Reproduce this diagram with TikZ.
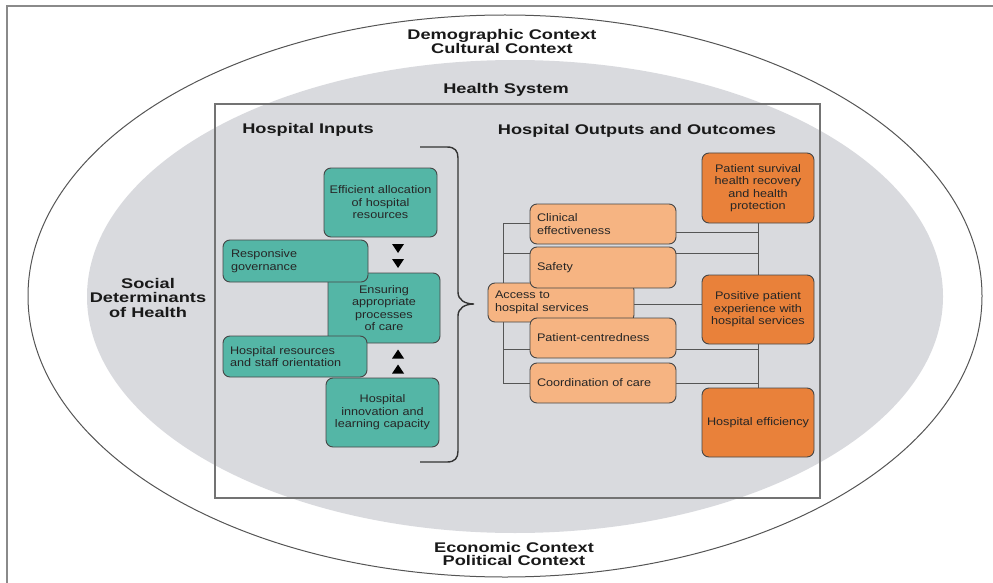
\documentclass[tikz,border=0pt]{standalone}
\usepackage{fontspec}
\setmainfont{Liberation Sans}
\newfontfamily\headfont[FakeStretch=1.3]{Liberation Sans}
\newfontfamily\boxfont[FakeStretch=1.15]{Liberation Sans}
\definecolor{framegrey}{RGB}{138,138,138}
\definecolor{systemgrey}{RGB}{217,218,222}
\definecolor{outline}{RGB}{85,85,85}
\definecolor{boxline}{RGB}{70,70,70}
\definecolor{inputteal}{RGB}{84,182,166}
\definecolor{outputorange}{RGB}{246,180,130}
\definecolor{outcomeorange}{RGB}{233,129,58}
\pgfdeclarelayer{back}
\pgfdeclarelayer{lines}
\pgfsetlayers{back,lines,main}
\begin{document}
\hyphenpenalty=10000\relax
\begin{tikzpicture}[x=1pt,y=-1pt,
  head/.style={font=\headfont\bfseries\fontsize{14}{13.5}\selectfont, align=center, inner sep=0pt, text=black!90},
  box/.style={draw=boxline, line width=0.9pt, rounded corners=7pt, inner xsep=7pt, inner ysep=0pt,
    font=\boxfont\fontsize{11}{12.5}\selectfont, text=black!85},
  cbox/.style={box, inner xsep=3pt, align=center},
  inputbox/.style={fill=inputteal},
  outputbox/.style={fill=outputorange},
  outcomebox/.style={fill=outcomeorange},
  link/.style={draw=outline, line width=0.9pt},
  downtri/.pic={\fill[black] (-6,-4.5) -- (6,-4.5) -- (0,4.5) -- cycle;},
  uptri/.pic={\fill[black] (-6,4.5) -- (6,4.5) -- (0,-4.5) -- cycle;}]
\useasboundingbox (0,0) rectangle (993,583);

\begin{pgfonlayer}{back}
% page frame
\draw[framegrey, line width=1.5pt] (7,583) -- (7,6) -- (993,6);
% context ellipse and health system
\draw[outline, line width=1pt] (505,296) ellipse [x radius=477, y radius=281];
\fill[systemgrey] (515,296.5) ellipse [x radius=428, y radius=236.5];
\end{pgfonlayer}

\node[head] (demo) at (502,41.5) {Demographic Context\\Cultural Context};
\node[head] (econ) at (514,554) {Economic Context\\Political Context};
\node[head] (hsys) at (506,90) {Health System};
\node[head, font=\headfont\bfseries\fontsize{14}{14.5}\selectfont] (sdh) at (148,297.5) {Social\\Determinants\\of Health};

% hospital frame
\node[draw=black!55, line width=1.2pt, minimum width=605pt, minimum height=394pt, inner sep=0pt] (hosp) at (517.5,301) {};

\node[head] (inputs) at (308,130) {Hospital Inputs};
\node[head] (outputs) at (637,130.5) {Hospital Outputs and Outcomes};

% hospital inputs
\node[cbox, inputbox, minimum width=113pt, minimum height=69pt, text width=107pt] (eff) at (380.5,202.5) {Efficient allocation\\of hospital\\resources};
\node[cbox, inputbox, minimum width=112pt, minimum height=70pt, text width=106pt] (ens) at (384,308) {Ensuring\\appropriate\\processes\\of care};
\node[cbox, inputbox, minimum width=113pt, minimum height=69pt, text width=107pt] (inn) at (382.5,412.5) {Hospital\\innovation and\\learning capacity};
\node[box, inputbox, minimum width=145pt, minimum height=42pt, text width=129pt, align=left, inner xsep=8pt] (gov) at (295.5,261) {Responsive\\governance};
\node[box, inputbox, minimum width=144pt, minimum height=41pt, text width=130pt, align=left] (res) at (295,356.5) {Hospital resources\\and staff orientation};

\pic at (398,248.5) {downtri};
\pic at (398,263.5) {downtri};
\pic at (398,354) {uptri};
\pic at (398,369) {uptri};

% brace gathering the inputs
\draw[black!80, line width=1.4pt] (420,147) -- (447,147) .. controls (455,147) and (458,151) .. (458,158)
  -- (458,292) .. controls (458,300) and (465,304) .. (474,304)
  .. controls (465,304) and (458,308) .. (458,316)
  -- (458,451) .. controls (458,458) and (455,462) .. (447,462) -- (420,462);

% outcomes
\node[cbox, outcomebox, minimum width=112pt, minimum height=70pt, text width=106pt] (sur) at (758,188) {Patient survival\\health recovery\\and health\\protection};
\node[cbox, outcomebox, minimum width=112pt, minimum height=69pt, text width=106pt] (pos) at (758,309.5) {Positive patient\\experience with\\hospital services};
\node[cbox, outcomebox, minimum width=112pt, minimum height=69pt, text width=106pt] (hef) at (758,422.5) {Hospital efficiency};

% outputs
\node[box, outputbox, minimum width=146pt, minimum height=39pt, text width=132pt, align=left] (acc) at (561,302.5) {Access to\\hospital services\\[2pt]};
\node[box, outputbox, minimum width=146pt, minimum height=40pt, text width=132pt, align=left] (cli) at (603,224) {Clinical\\effectiveness};
\node[box, outputbox, minimum width=146pt, minimum height=41pt, text width=132pt, align=left] (saf) at (603,267.5) {Safety};
\node[box, outputbox, minimum width=146pt, minimum height=40pt, text width=132pt, align=left] (pat) at (603,338) {Patient-centredness};
\node[box, outputbox, minimum width=146pt, minimum height=40pt, text width=132pt, align=left] (coo) at (603,383) {Coordination of care};

% connector end points
\coordinate (busTop) at (503,223);
\coordinate (busBot) at (503,383);
\coordinate (cliR) at ([yshift=-8pt]cli.east);
\coordinate (safL) at ([yshift=14.5pt]saf.west);
\coordinate (safR) at ([yshift=14.5pt]saf.east);
\coordinate (patL) at ([yshift=-11pt]pat.west);
\coordinate (patR) at ([yshift=-11pt]pat.east);
\coordinate (accR) at ([yshift=-1.5pt]acc.east);

% connectors, behind the boxes
\begin{pgfonlayer}{lines}
\draw[link] (busTop) -- (busBot);
\draw[link] (busTop) -- (busTop -| cli.west);
\draw[link] (safL) -- (safL -| busTop);
\draw[link] (patL) -- (patL -| busTop);
\draw[link] (coo.west) -- (coo.west -| busTop);
\draw[link] (sur.south) -- (hef.north);
\draw[link] (cliR) -- (cliR -| sur.south);
\draw[link] (safR) -- (safR -| sur.south);
\draw[link] (patR) -- (patR -| sur.south);
\draw[link] (coo.east) -- (coo.east -| sur.south);
\draw[link] (accR) -- (accR -| pos.west);
\end{pgfonlayer}
\end{tikzpicture}
\end{document}
